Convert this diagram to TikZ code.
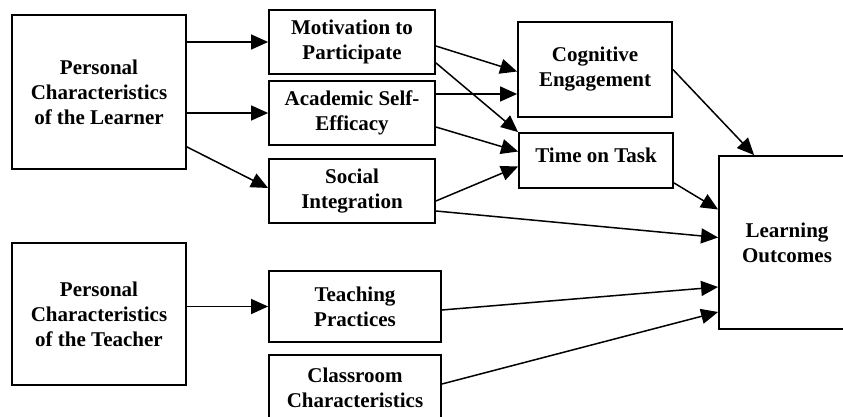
\documentclass[tikz,border=0pt]{standalone}
\usepackage{fontspec}
\setmainfont{Liberation Serif}
\usetikzlibrary{arrows.meta}

\begin{document}
\begin{tikzpicture}[x=1pt,y=-1pt,
		box/.style={draw,line width=1.8pt,align=center,inner sep=2pt,
			font=\fontsize{21}{25}\selectfont\bfseries},
		arr/.style={line width=1.5pt,-{Triangle[length=17pt,width=15pt]}}]
		\useasboundingbox (0,0) rectangle (843,417);
		
		% left column
		\node[box,minimum width=174,minimum height=154] (learner) at (99,92) {Personal\\Characteristics\\of the Learner};
		\node[box,minimum width=174,minimum height=142] (teacher) at (99,314) {Personal\\Characteristics\\of the Teacher};
		
		% middle column
		\node[box,minimum width=166,minimum height=64] (motiv) at (352,42) {Motivation to\\Participate};
		\node[box,minimum width=166,minimum height=64] (acad) at (352,113) {Academic Self-\\Efficacy};
		\node[box,minimum width=166,minimum height=64] (social) at (352,191) {Social\\Integration};
		\node[box,minimum width=172,minimum height=71] (teach) at (355,306.5) {Teaching\\Practices};
		\node[box,minimum width=172,minimum height=76,text depth=10pt] (class) at (355,393) {Classroom\\Characteristics};
		
		% right side
		\node[box,minimum width=154,minimum height=95] (cog) at (595,69.5) {Cognitive\\Engagement};
		\node[box,minimum width=154,minimum height=55,text depth=11pt] (time) at (596,160.5) {Time on Task};
		\node[box,minimum width=136,minimum height=173] (learn) at (787,242.5) {Learning\\Outcomes};
		
		% arrows
		\draw[arr] (learner.east |- motiv) -- (motiv.west);
		\draw[arr] (learner.east |- acad) -- (acad.west);
		\draw[arr] ([yshift=23pt]learner.south east) -- ([yshift=3pt]social.west);
		\draw[arr] ([yshift=-4pt]motiv.east) -- ([yshift=-2pt]cog.west);
		\draw[arr] ([yshift=12pt]motiv.south east) -- (time.north west);
		\draw[arr] ([yshift=19pt]acad.east) -- ([yshift=19pt]acad.east -| cog.west);
		\draw[arr] ([yshift=-14pt]acad.east) -- ([yshift=9pt]time.west);
		\draw[arr] ([yshift=-10pt]social.east) -- ([yshift=-6pt]time.west);
		\draw[arr] ([yshift=-20pt]social.east) -- ([yshift=5pt]learn.west);
		\draw[arr] (cog.east) -- ([xshift=36pt]learn.north west);
		\draw[arr] ([yshift=6pt]time.south east) -- ([yshift=33pt]learn.west);
		\draw[arr] ([yshift=-3.5pt]teach.east) -- ([yshift=-44.5pt]learn.west);
		\draw[arr] ([yshift=9pt]class.east) -- ([yshift=-69.5pt]learn.west);
		\draw[arr] (teacher.east |- teach) -- (teach.west);
	\end{tikzpicture}
\end{document}
